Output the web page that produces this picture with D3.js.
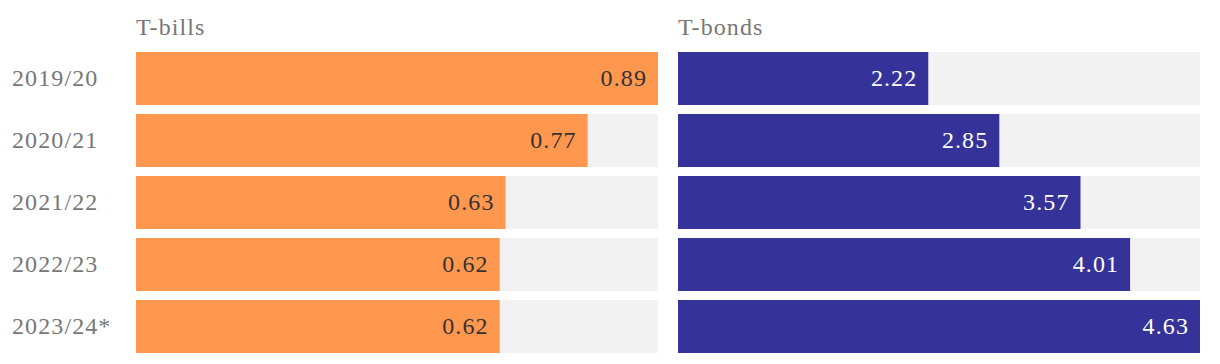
<!DOCTYPE html>
<html><head><meta charset="utf-8">
<script src="https://cdn.jsdelivr.net/npm/d3@7"></script>
<style>body{margin:0;background:#fff}svg{display:block}</style>
</head><body>
<svg id="c" width="1220" height="364"></svg>
<script>
const categories = ["2019/20","2020/21","2021/22","2022/23","2023/24*"];
const tbills = [0.89,0.77,0.63,0.62,0.62];
const tbonds = [2.22,2.85,3.57,4.01,4.63];
const panelTitles = ["T-bills","T-bonds"];

const svg = d3.select("#c");
const font = "'Liberation Serif', 'DejaVu Serif', serif";
const fs = 24, ls = "1.1px";
const y = d3.scaleBand().domain(categories).range([52, 353]).paddingInner(0.145).paddingOuter(0);

svg.selectAll("text.cat").data(categories).join("text")
  .attr("x", 12).attr("y", d => y(d) + y.bandwidth()/2)
  .attr("dy", "0.33em").attr("font-family", font).attr("font-size", fs)
  .attr("letter-spacing", ls).attr("fill", "#777").text(d => d);

const panels = [
  {title: panelTitles[0], values: tbills, x0: 136, x1: 658, color: "#FF974F", text: "#333"},
  {title: panelTitles[1], values: tbonds, x0: 678, x1: 1200, color: "#35339A", text: "#fff"}
];
panels.forEach(p => {
  const x = d3.scaleLinear().domain([0, d3.max(p.values)]).range([p.x0, p.x1]);
  const g = svg.append("g");
  g.append("text").attr("x", p.x0).attr("y", 35).attr("font-family", font)
    .attr("font-size", fs).attr("letter-spacing", ls).attr("fill", "#777").text(p.title);
  g.selectAll("rect.bg").data(categories).join("rect")
    .attr("x", p.x0).attr("y", d => y(d)).attr("width", p.x1 - p.x0)
    .attr("height", y.bandwidth()).attr("fill", "#F2F2F2");
  g.selectAll("rect.bar").data(p.values).join("rect")
    .attr("x", p.x0).attr("y", (d,i) => y(categories[i]))
    .attr("width", d => x(d) - p.x0).attr("height", y.bandwidth()).attr("fill", p.color);
  g.selectAll("text.val").data(p.values).join("text")
    .attr("x", d => x(d) - 11).attr("y", (d,i) => y(categories[i]) + y.bandwidth()/2)
    .attr("dy", "0.33em").attr("text-anchor", "end").attr("font-family", font)
    .attr("font-size", fs).attr("letter-spacing", ls).attr("fill", p.text).text(d => d.toFixed(2));
});
</script>
</body></html>
